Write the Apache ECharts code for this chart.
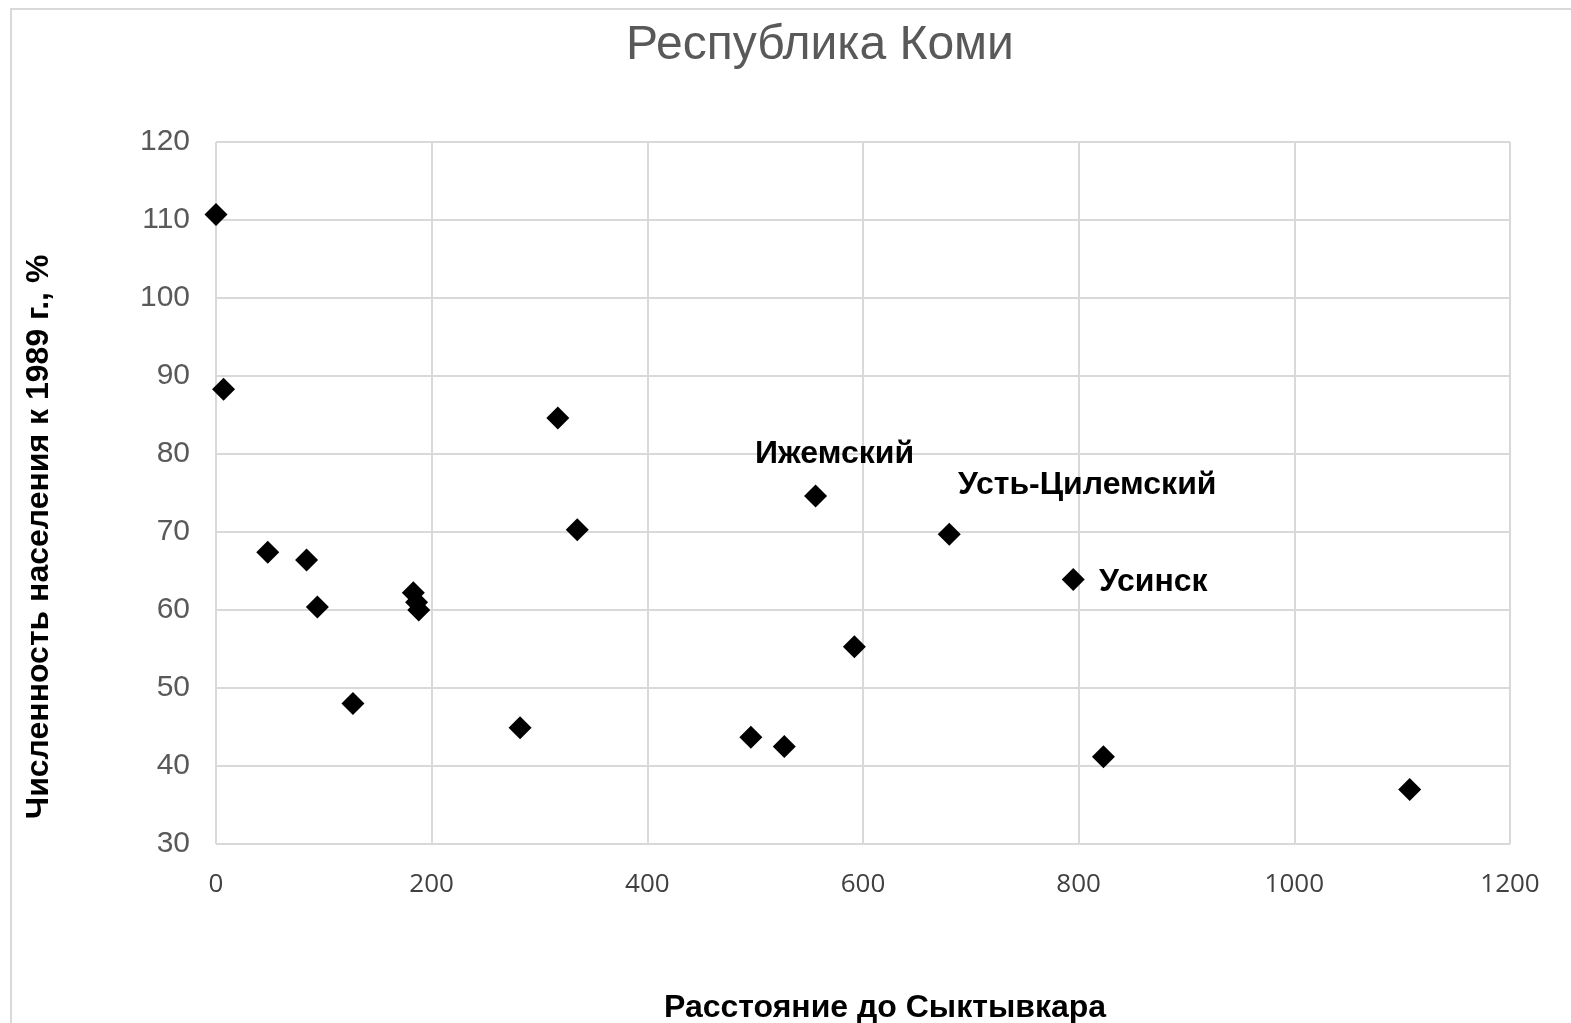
<!DOCTYPE html>
<html>
<head>
<meta charset="utf-8">
<script src="https://cdn.jsdelivr.net/npm/echarts@6/dist/echarts.min.js"></script>
<style>html,body{margin:0;padding:0;background:#fff;}#c{width:1571px;height:1023px;}</style>
</head>
<body>
<div id="c"></div>
<script>
const distances = [0, 7, 48, 84, 94, 127, 183, 186, 188, 282, 317, 335, 496, 527, 556, 592, 680, 795, 823, 1107];
const population = [110.7, 88.3, 67.4, 66.4, 60.4, 48.0, 62.2, 61.0, 60.0, 44.9, 84.6, 70.3, 43.7, 42.5, 74.6, 55.3, 69.7, 63.9, 41.2, 37.0];
const pointLabels = ['', '', '', '', '', '', '', '', '', '', '', '', '', '', 'Ижемский', '', 'Усть-Цилемский', 'Усинск', '', ''];
const labelOffsets = {'Ижемский': [19, -42], 'Усть-Цилемский': [138, -49], 'Усинск': [80, 3]};
const xTicks = [0, 200, 400, 600, 800, 1000, 1200];
const yTicks = [30, 40, 50, 60, 70, 80, 90, 100, 110, 120];
const titleText = 'Республика Коми';
const xName = 'Расстояние до Сыктывкара';
const yName = 'Численность населения к 1989 г., %';

const chart = echarts.init(document.getElementById('c'));
const labelStyle = {color: '#000', fontWeight: 'bold', fontFamily: 'Liberation Sans', fontSize: 32};
const data = distances.map((d, i) => {
  const item = {value: [d, population[i]]};
  if (pointLabels[i]) {
    item.label = Object.assign({show: true, position: 'inside', offset: labelOffsets[pointLabels[i]], formatter: pointLabels[i]}, labelStyle);
  }
  return item;
});
chart.setOption({
  animation: false,
  backgroundColor: '#fff',
  grid: {left: 216, top: 142, right: 61, bottom: 179, containLabel: false},
  xAxis: {
    type: 'value', min: xTicks[0], max: xTicks[xTicks.length - 1], interval: 200,
    axisLine: {show: false}, axisTick: {show: false},
    splitLine: {show: true, lineStyle: {color: '#d9d9d9', width: 2}},
    axisLabel: {color: '#404040', fontFamily: 'Open Sans', fontSize: 26, margin: 28, formatter: v => String(v)}
  },
  yAxis: {
    type: 'value', min: yTicks[0], max: yTicks[yTicks.length - 1], interval: 10,
    axisLine: {show: false}, axisTick: {show: false},
    splitLine: {show: true, lineStyle: {color: '#d9d9d9', width: 2}},
    axisLabel: {color: '#595959', fontFamily: 'Liberation Sans', fontSize: 30, margin: 26}
  },
  series: [{
    type: 'scatter', symbol: 'diamond', symbolSize: 23,
    itemStyle: {color: '#000', opacity: 1},
    emphasis: {disabled: true},
    label: Object.assign({show: false}, labelStyle),
    data: data
  }],
  graphic: [
    {type: 'rect', shape: {x: 11, y: 9, width: 1700, height: 1100}, style: {fill: 'none', stroke: '#d9d9d9', lineWidth: 2}, silent: true, z: -1},
    {type: 'text', x: 820, y: 46, style: {text: titleText, fill: '#595959', font: '48px "Liberation Sans"', textAlign: 'center', textVerticalAlign: 'middle'}},
    {type: 'text', x: 885, y: 1008, style: {text: xName, fill: '#000', font: 'bold 32px "Liberation Sans"', textAlign: 'center', textVerticalAlign: 'middle'}},
    {type: 'text', x: 39, y: 537, rotation: Math.PI / 2, style: {text: yName, fill: '#000', font: 'bold 32px "Liberation Sans"', textAlign: 'center', textVerticalAlign: 'middle'}}
  ]
});
</script>
</body>
</html>
